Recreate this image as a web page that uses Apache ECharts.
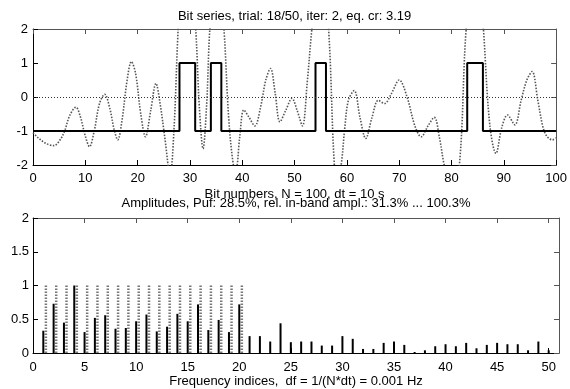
<!DOCTYPE html>
<html><head><meta charset="utf-8">
<script src="https://cdn.jsdelivr.net/npm/echarts@6/dist/echarts.min.js"></script>
<style>html,body{margin:0;padding:0;background:#fff}#c{width:570px;height:389px}</style>
</head><body><div id="c"></div>
<script>
// ---------- data ----------
const titleTop = 'Bit series, trial: 18/50, iter: 2, eq. cr: 3.19';
const xNameTop = 'Bit numbers, N = 100, dt = 10 s';
const titleBottom = 'Amplitudes, Puf: 28.5%, rel. in-band ampl.: 31.3% ... 100.3%';
const xNameBottom = 'Frequency indices,  df = 1/(N*dt) = 0.001 Hz';

const bits = [
  -1,-1,-1,-1,-1,-1,-1,-1,-1,-1, -1,-1,-1,-1,-1,-1,-1,-1,-1,-1,
  -1,-1,-1,-1,-1,-1,-1,-1, 1, 1,  1,-1,-1,-1, 1, 1,-1,-1,-1,-1,
  -1,-1,-1,-1,-1,-1,-1,-1,-1,-1, -1,-1,-1,-1, 1, 1,-1,-1,-1,-1,
  -1,-1,-1,-1,-1,-1,-1,-1,-1,-1, -1,-1,-1,-1,-1,-1,-1,-1,-1,-1,
  -1,-1,-1, 1, 1, 1,-1,-1,-1,-1, -1,-1,-1,-1,-1,-1,-1,-1,-1,-1
];

const curveX = [0,1,2,3,4,5,6,7,8.2,9,10,10.8,11.7,12.7,13.7,14.7,15.5,16.2,17,18,18.8,19.6,20.6,21.5,22.5,23.5,24.3,25.2,26.2,27,27.6,28.2,29.2,30.2,31.1,31.8,32.5,33.2,33.8,34.8,35.6,36.5,37.4,38.3,38.8,39.5,40.3,41.3,42.4,43.5,44.5,45.4,46.3,47.2,48.3,49.5,50.5,51.5,52.4,53.3,54.3,55.3,56.5,57.6,58.2,58.9,59.6,60.3,61.4,62.5,63.6,64.8,66,67.2,68.5,70,71.5,73,74.2,75.5,76.7,77.7,78.6,80,81.5,82.8,84.3,85.3,86.1,87.3,88.5,89.6,90.7,92.1,93.3,94.4,95.4,96.5,97.5,98.3,99.3,100];
const curveY = [-1.05,-1.2,-1.32,-1.4,-1.43,-1.3,-1.02,-0.55,-0.3,-0.55,-1.15,-1.46,-1.0,-0.2,0.08,-0.35,-0.95,-1.26,-0.7,0.5,1.04,0.7,-0.5,-1.17,-0.4,0.4,-0.2,-1.2,-2.3,-0.8,1.5,3.2,4.2,3.6,2.0,-0.3,-1.52,-0.2,2.0,3.6,3.4,2.0,-0.6,-2.0,-2.1,-1.2,-0.38,-0.6,-0.85,-0.3,0.5,0.84,0.1,-0.73,-0.4,-0.04,-0.4,-0.85,0.4,2.0,3.4,3.6,2.0,-2.0,-2.4,-2.0,-0.9,-0.09,0.19,-0.6,-1.22,-0.6,-0.1,-0.19,0.1,0.5,0.0,-0.85,-1.17,-0.85,-0.6,-1.2,-2.0,-2.8,-2.0,2.0,3.8,3.6,2.0,-0.8,-1.66,-0.9,-0.53,-0.82,-0.1,0.5,0.75,-0.1,-0.9,-1.17,-1.26,-1.2];

const ampIndex = [0,1,2,3,4,5,6,7,8,9,10,11,12,13,14,15,16,17,18,19,20,21,22,23,24,25,26,27,28,29,30,31,32,33,34,35,36,37,38,39,40,41,42,43,44,45,46,47,48,49,50];
const ampValues = [2.0,0.33,0.73,0.45,1.0,0.31,0.52,0.56,0.36,0.37,0.47,0.57,0.32,0.39,0.58,0.47,0.72,0.34,0.49,0.31,0.72,0.25,0.25,0.17,0.44,0.16,0.17,0.17,0.11,0.11,0.25,0.21,0.06,0.06,0.15,0.17,0.12,0.015,0.04,0.1,0.13,0.1,0.15,0.07,0.12,0.15,0.13,0.13,0.04,0.17,0.04];

const bandIndex = [1,2,3,4,5,6,7,8,9,10,11,12,13,14,15,16,17,18,19,20];
const bandValues = [1,1,1,1,1,1,1,1,1,1,1,1,1,1,1,1,1,1,1,1];

const topXTicks = [0,10,20,30,40,50,60,70,80,90,100];
const topYTicks = [-2,-1,0,1,2];
const botXTicks = [0,5,10,15,20,25,30,35,40,45,50];
const botYTicks = [0,0.5,1,1.5,2];

// ---------- chart ----------
const FONT = 'Liberation Sans';
const txt = {fontFamily: FONT, fontSize: 13, color: '#000'};

const stepData = bits.map((b, i) => [i, b]).concat([[bits.length, bits[bits.length - 1]]]);
const curveData = curveX.map((x, i) => [x, curveY[i]]);
const ampData = ampIndex.map((x, i) => [x, ampValues[i]]);
const bandData = bandIndex.map((x, i) => [x, bandValues[i]]);

function stem(offset, color, width, dash) {
  return function (params, api) {
    const x = api.value(0) + offset;
    const a = api.coord([x, 0]);
    const b = api.coord([x, api.value(1)]);
    return {type: 'line', shape: {x1: a[0], y1: a[1], x2: b[0], y2: b[1]},
      style: {stroke: color, lineWidth: width, lineDash: dash}};
  };
}

function mainX(grid, min, max, interval, ticks, name, gap, margin) {
  return {type: 'value', gridIndex: grid, position: 'bottom', min, max, interval,
    name, nameLocation: 'middle', nameGap: gap, nameTextStyle: txt,
    axisLine: {show: true, onZero: false, lineStyle: {color: '#000', width: 1}},
    axisTick: {show: true, inside: true, length: 5, customValues: ticks, lineStyle: {color: '#000'}},
    axisLabel: {show: true, margin, customValues: ticks, ...txt},
    splitLine: {show: false}};
}
function mirrorX(grid, min, max, interval, ticks, name, gap) {
  return {type: 'value', gridIndex: grid, position: 'top', min, max, interval,
    name, nameLocation: 'middle', nameGap: gap, nameTextStyle: txt,
    axisLine: {show: true, onZero: false, lineStyle: {color: '#555', width: 1}},
    axisTick: {show: true, inside: true, length: 5, customValues: ticks, lineStyle: {color: '#555'}},
    axisLabel: {show: false}, splitLine: {show: false}};
}
function mainY(grid, min, max, interval, ticks, margin) {
  return {type: 'value', gridIndex: grid, position: 'left', min, max, interval,
    axisLine: {show: true, onZero: false, lineStyle: {color: '#000', width: 1}},
    axisTick: {show: true, inside: true, length: 5, customValues: ticks, lineStyle: {color: '#000'}},
    axisLabel: {show: true, margin, customValues: ticks, ...txt},
    splitLine: {show: false}};
}
function mirrorY(grid, min, max, interval, ticks) {
  return {type: 'value', gridIndex: grid, position: 'right', min, max, interval,
    axisLine: {show: true, onZero: false, lineStyle: {color: '#555', width: 1}},
    axisTick: {show: true, inside: true, length: 5, customValues: ticks, lineStyle: {color: '#555'}},
    axisLabel: {show: false}, splitLine: {show: false}};
}

const option = {
  animation: false,
  backgroundColor: '#fff',
  grid: [
    {left: 33, right: 11, top: 29, height: 136},
    {left: 33, right: 11, top: 218, height: 135}
  ],
  xAxis: [
    mainX(0, 0, 100, 10, topXTicks, xNameTop, 23, 7),
    mirrorX(0, 0, 100, 10, topXTicks, titleTop, 6),
    mainX(1, 0, 51, 5, botXTicks, xNameBottom, 22, 8),
    mirrorX(1, 0, 51, 5, botXTicks, titleBottom, 8)
  ],
  yAxis: [
    mainY(0, -2, 2, 1, topYTicks, 5),
    mirrorY(0, -2, 2, 1, topYTicks),
    mainY(1, 0, 2, 0.5, botYTicks, 4),
    mirrorY(1, 0, 2, 0.5, botYTicks)
  ],
  series: [
    {type: 'line', xAxisIndex: 0, yAxisIndex: 0, data: curveData, smooth: 0.35,
      showSymbol: false, clip: true,
      lineStyle: {color: '#555', width: 1.6, type: [1.5, 1.5]},
      markLine: {silent: true, symbol: 'none', label: {show: false},
        lineStyle: {color: '#333', width: 1, type: [1, 2]}, data: [{yAxis: 0}]}},
    {type: 'line', xAxisIndex: 0, yAxisIndex: 0, data: stepData, step: 'end',
      showSymbol: false, clip: true, lineStyle: {color: '#000', width: 2}},
    {type: 'custom', xAxisIndex: 2, yAxisIndex: 2, data: bandData, clip: true,
      renderItem: stem(0.25, '#777', 2.5, [1.5, 1.5])},
    {type: 'custom', xAxisIndex: 2, yAxisIndex: 2, data: ampData, clip: true,
      renderItem: stem(0, '#000', 2, null)}
  ]
};
echarts.init(document.getElementById('c'), null, {renderer: 'canvas'}).setOption(option);
</script></body></html>
